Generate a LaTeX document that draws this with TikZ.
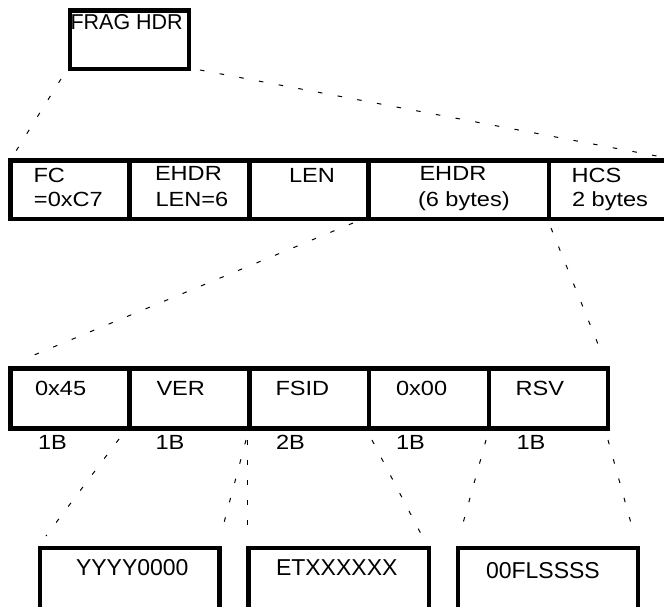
\documentclass[tikz,border=0pt]{standalone}
\usepackage{fontspec}
\setmainfont{Liberation Sans}
\newfontfamily\rowfam{Liberation Sans}[FakeStretch=1.15]
\newcommand{\rowf}{\rowfam\fontsize{20.5}{24}\selectfont}
\newcommand{\fragf}{\fontsize{21.5}{26}\selectfont}
\newcommand{\botf}{\fontsize{23}{27}\selectfont}
\begin{document}
\begin{tikzpicture}[x=1pt,y=-1pt,
  box/.style={draw, line width=4.5pt, inner sep=0pt, outer sep=0pt, anchor=north west},
  edge/.style={line width=4.5pt},
  txt/.style={anchor=base west, inner sep=0pt, outer sep=0pt},
  conn/.style={line width=1pt, dash pattern=on 4.5pt off 15.5pt}]
\useasboundingbox (0,0) rectangle (664,606);
\clip (0,0) rectangle (664,606);
% FRAG HDR box
\node[box, minimum width=119pt, minimum height=58.5pt] (frag) at (70,10.5) {};
\draw[edge] ([yshift=2pt]frag.south west) -- ++(0,-9);
\node[txt, font=\fragf] (fragt) at (70.5,29.5) {FRAG HDR};
% row 1
\node[box, minimum width=119pt, minimum height=58.5pt] (fc) at (10.5,160.5) {};
\node[box, minimum width=120.2pt, minimum height=58.5pt] (ehl) at (129.5,160.5) {};
\node[box, minimum width=119pt, minimum height=58.5pt] (len) at (249.7,160.5) {};
\node[box, minimum width=180.3pt, minimum height=58.5pt] (ehdr) at (368.7,160.5) {};
\node[box, minimum width=125pt, minimum height=58.5pt] (hcs) at (549,160.5) {};
\node[txt, font=\rowf] (t1) at (33.5,182.5) {FC};
\node[txt, font=\rowf] (t2) at (34,206.5) {=0xC7};
\node[txt, font=\rowf] (t3) at (155,180) {EHDR};
\node[txt, font=\rowf] (t4) at (155.5,206.5) {LEN=6};
\node[txt, font=\rowf] (t5) at (289,182.5) {LEN};
\node[txt, font=\rowf] (t6) at (419.5,180) {EHDR};
\node[txt, font=\rowf] (t7) at (418,206) {(6 bytes)};
\node[txt, font=\rowf] (t8) at (571.5,182) {HCS};
\node[txt, font=\rowf] (t9) at (572,206.5) {2 bytes};
% row 2
\node[box, minimum width=119pt, minimum height=60pt] (b45) at (10.5,368.5) {};
\node[box, minimum width=120.2pt, minimum height=60pt] (ver) at (129.5,368.5) {};
\node[box, minimum width=119.3pt, minimum height=60pt] (fsid) at (249.7,368.5) {};
\node[box, minimum width=120pt, minimum height=60pt] (b00) at (369,368.5) {};
\node[box, minimum width=119pt, minimum height=60pt] (rsv) at (489,368.5) {};
\draw[edge] ([yshift=-2pt]rsv.north east) -- ++(0,7.5);
\node[txt, font=\rowf] (u1) at (35,395) {0x45};
\node[txt, font=\rowf] (u2) at (156.5,395) {VER};
\node[txt, font=\rowf] (u3) at (275.5,395) {FSID};
\node[txt, font=\rowf] (u4) at (396,395) {0x00};
\node[txt, font=\rowf] (u5) at (515.5,395) {RSV};
\node[txt, font=\rowf] (s1) at (38,449) {1B};
\node[txt, font=\rowf] (s2) at (155.5,449) {1B};
\node[txt, font=\rowf] (s3) at (276,449) {2B};
\node[txt, font=\rowf] (s4) at (396,449) {1B};
\node[txt, font=\rowf] (s5) at (516.5,449) {1B};
% bottom boxes
\node[box, minimum width=179.3pt, minimum height=70pt] (y1) at (40,548) {};
\node[box, minimum width=180.3pt, minimum height=70pt] (y2) at (248.7,548) {};
\node[box, minimum width=180pt, minimum height=70pt] (y3) at (458,548) {};
\foreach \n in {y1,y2,y3}{
  \draw[edge] ([yshift=-2pt]\n.north west) -- ++(0,6.5);
  \draw[edge] ([yshift=-2pt]\n.north east) -- ++(0,6.5);
}
\node[txt, font=\botf] (v1) at (76,575) {YYYY0000};
\node[txt, font=\botf] (v2) at (276,575) {ETXXXXXX};
\node[txt, font=\botf] (v3) at (486,578) {00FLSSSS};
% connector end points
\coordinate (c1a) at (61,79);   \coordinate (c1b) at (16,151);
\coordinate (c2a) at (200,70);  \coordinate (c2b) at (662,157);
\coordinate (c3a) at (353,223); \coordinate (c3b) at (22,360);
\coordinate (c4a) at (551,228); \coordinate (c4b) at (602,354);
\coordinate (c5a) at (119,439); \coordinate (c5b) at (46,536);
\coordinate (c6a) at (246,440); \coordinate (c6b) at (221,534);
\coordinate (c6c) at (247.5,440); \coordinate (c6d) at (247.5,534);
\coordinate (c7a) at (372,440); \coordinate (c7b) at (421,534);
\coordinate (c8a) at (486,440); \coordinate (c8b) at (460,534);
\coordinate (c9a) at (608,440); \coordinate (c9b) at (634,534);
\foreach \a/\b in {c1a/c1b,c2a/c2b,c3a/c3b,c4a/c4b,c5a/c5b,c6a/c6b,c6c/c6d,c7a/c7b,c8a/c8b,c9a/c9b}
  \draw[conn] (\a) -- (\b);
\end{tikzpicture}
\end{document}
